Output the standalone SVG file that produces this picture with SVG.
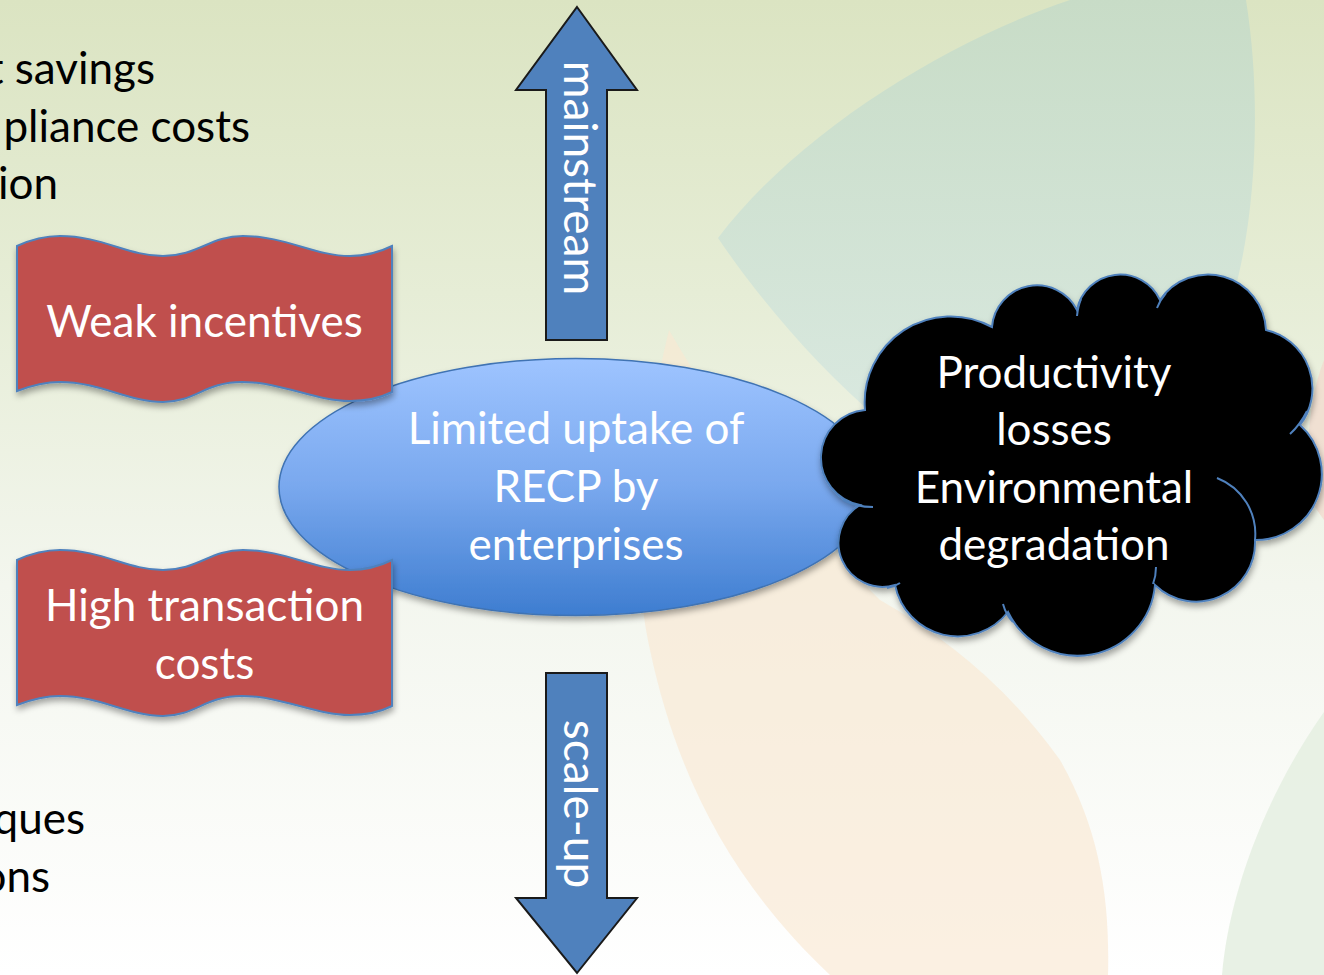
<svg xmlns="http://www.w3.org/2000/svg" xmlns:xlink="http://www.w3.org/1999/xlink" width="1324" height="975" viewBox="0 0 1324 975">
  <defs>
    <linearGradient id="bg" x1="0" y1="0" x2="0" y2="1">
      <stop offset="0" stop-color="#dbe4c2"/>
      <stop offset="0.3" stop-color="#e6edd6"/>
      <stop offset="0.6" stop-color="#f3f6ee"/>
      <stop offset="1" stop-color="#ffffff"/>
    </linearGradient>
    <linearGradient id="teal" x1="0" y1="0" x2="0" y2="1">
      <stop offset="0" stop-color="#c3dac8"/>
      <stop offset="1" stop-color="#d7e8e3"/>
    </linearGradient>
    <linearGradient id="ell" x1="0" y1="0" x2="0" y2="1">
      <stop offset="0" stop-color="#9ec4ff"/>
      <stop offset="0.5" stop-color="#79a8ee"/>
      <stop offset="1" stop-color="#3e7dd0"/>
    </linearGradient>
    <filter id="sh" x="-10%" y="-10%" width="125%" height="135%">
      <feDropShadow dx="1" dy="4" stdDeviation="3" flood-color="#000" flood-opacity="0.35"/>
    </filter>
    <path id="wave" d="M17,246 C30,240 44,236 60,236 C102,236 128,256 163,256 C198,256 210,236 243,236 C285,236 315,256 350,256 C368,256 380,252 392,246 L392,392 C380,398 368,401 350,401 C315,401 282,382 242,382 C205,382 195,402 163,402 C128,402 100,382 60,382 C44,382 30,386 17,391 Z"/>
  </defs>
  <style>
    .t { font-family: Lato, "Liberation Sans", sans-serif; font-size: 44px; }
    .v { font-size: 46px; }
    .w { fill: #ffffff; text-anchor: middle; }
    .k { fill: #000000; text-anchor: end; }
    .banner { fill: #c0504d; stroke: #4f81bd; stroke-width: 2; }
    .arrow { fill: #4f81bd; stroke: #1a1a1a; stroke-width: 2; stroke-linejoin: miter; }
    .cloudline { fill: none; stroke: #4f81bd; stroke-width: 2; }
  </style>

  <!-- background -->
  <rect x="0" y="0" width="1324" height="975" fill="url(#bg)"/>
  <path d="M718,238 C800,130 950,40 1070,0 L1246,0 C1262,100 1256,220 1232,300 L1150,480 L880,420 C820,370 760,300 718,238 Z" fill="url(#teal)" opacity="0.8"/>
  <path d="M669,330 C640,450 630,560 650,650 C680,790 740,890 830,975 L1108,975 C1110,900 1100,830 1060,760 C1010,690 950,640 880,600 C800,520 720,420 669,330 Z" fill="#f9e8d2" opacity="0.65"/>
  <path d="M1324,360 C1312,390 1304,440 1310,500 L1324,520 Z" fill="#f2d9cc" opacity="0.7"/>
  <path d="M1222,975 C1228,900 1262,800 1324,712 L1324,975 Z" fill="#e6efe2" opacity="0.9"/>

  <!-- partially visible side text -->
  <g id="side-text">
    <text class="t k" x="155" y="84">t savings</text>
    <text class="t k" x="250" y="142">pliance costs</text>
    <text class="t k" x="58" y="199">ion</text>
    <text class="t k" x="85" y="834">ques</text>
    <text class="t k" x="50" y="892">ons</text>
  </g>

  <!-- central ellipse -->
  <g id="node-uptake">
    <ellipse cx="576" cy="487" rx="297" ry="128.5" fill="url(#ell)" stroke="#3f73b3" stroke-width="1.5" filter="url(#sh)"/>
    <text class="t w" x="576" y="444">Limited uptake of</text>
    <text class="t w" x="576" y="502">RECP by</text>
    <text class="t w" x="576" y="560">enterprises</text>
  </g>

  <!-- banners -->
  <g id="node-weak-incentives">
    <use xlink:href="#wave" class="banner" filter="url(#sh)"/>
    <text class="t w" x="204.5" y="337">Weak incentives</text>
  </g>
  <g id="node-high-transaction-costs">
    <use xlink:href="#wave" class="banner" transform="translate(0,314)" filter="url(#sh)"/>
    <text class="t w" x="204.5" y="621">High transaction</text>
    <text class="t w" x="204.5" y="679">costs</text>
  </g>

  <!-- cloud -->
  <g id="node-losses">
    <path d="M865,410 A86,86 0 0 1 992,327 A45,45 0 0 1 1077,310 A44,44 0 0 1 1160,300 A58,58 0 0 1 1266,330 A60,60 0 0 1 1300,425 A66,66 0 0 1 1255,540 A59,59 0 0 1 1155,585 A77.5,77.5 0 0 1 1008,612 A64,64 0 0 1 895,585 A44,44 0 0 1 860,505 A48,48 0 0 1 865,410 Z" fill="#000000" stroke="#4f81bd" stroke-width="2" filter="url(#sh)"/>
    <path class="cloudline" d="M1217,478 A60,60 0 0 1 1255,540"/>
    <path class="cloudline" d="M1307,411 Q1300,425 1290,434"/>
    <path class="cloudline" d="M843,500 Q856,507 873,507"/>
    <path class="cloudline" d="M887,588 Q894,587 900,583"/>
    <path class="cloudline" d="M1003,604 Q1006,615 1013,622"/>
    <path class="cloudline" d="M1153,584 Q1156,576 1156,567"/>
    <path class="cloudline" d="M1077,316 Q1078,306 1081,299"/>
    <path class="cloudline" d="M1157,308 Q1160,300 1166,293"/>
    <text class="t w" x="1054" y="388">Productivity</text>
    <text class="t w" x="1054" y="445">losses</text>
    <text class="t w" x="1054" y="503">Environmental</text>
    <text class="t w" x="1054" y="560">degradation</text>
  </g>

  <!-- block arrows -->
  <g id="connectors">
    <g id="arrow-mainstream">
      <path class="arrow" d="M577,7 L637,90 L607,90 L607,340 L546,340 L546,90 L516,90 Z"/>
      <text class="t v w" transform="translate(564,178) rotate(90)" x="0" y="0">mainstream</text>
    </g>
    <g id="arrow-scale-up">
      <path class="arrow" d="M546,673 L607,673 L607,898 L637,898 L577,973 L516,898 L546,898 Z"/>
      <text class="t v w" transform="translate(564,804) rotate(90)" x="0" y="0">scale-up</text>
    </g>
  </g>
</svg>
